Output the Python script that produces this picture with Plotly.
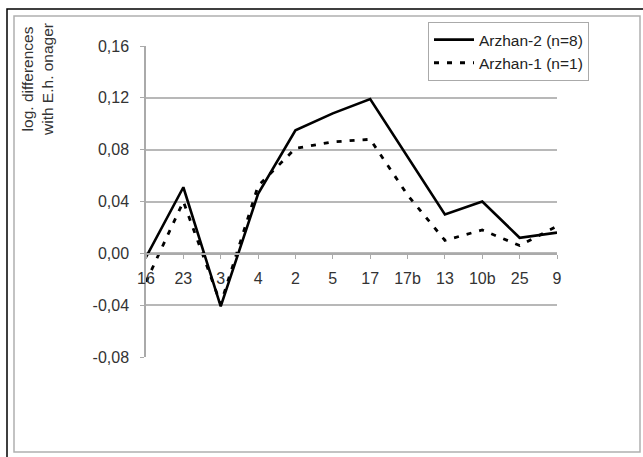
import plotly.graph_objects as go

categories = ["16", "23", "3", "4", "2", "5", "17", "17b", "13", "10b", "25", "9"]
arzhan2 = [-0.003, 0.051, -0.041, 0.046, 0.095, 0.108, 0.119, 0.075, 0.030, 0.040, 0.012, 0.016]
arzhan1 = [-0.022, 0.040, -0.039, 0.052, 0.081, 0.086, 0.088, 0.045, 0.010, 0.018, 0.006, 0.021]
y_tick_values = [-0.08, -0.04, 0.0, 0.04, 0.08, 0.12, 0.16]
y_tick_labels = ["-0,08", "-0,04", "0,00", "0,04", "0,08", "0,12", "0,16"]

W, H = 643, 457
L, R, T, B = 146, 557, 46, 357  # plot area pixel bounds


def px(x):
    return (x - L) / (R - L)


def py(y):
    return (B - y) / (B - T)


fig = go.Figure()
fig.add_trace(go.Scatter(x=categories, y=arzhan2, mode="lines", name="Arzhan-2 (n=8)",
                         line=dict(color="black", width=2.6)))
fig.add_trace(go.Scatter(x=categories, y=arzhan1, mode="lines", name="Arzhan-1 (n=1)",
                         line=dict(color="black", width=2.8, dash="5px,8px")))

font = "Liberation Sans, Arial, sans-serif"

fig.update_layout(
    width=W, height=H,
    margin=dict(l=L, r=W - R, t=T, b=H - B),
    paper_bgcolor="white", plot_bgcolor="white",
    font=dict(family=font, size=16, color="#333"),
    showlegend=True,
    legend=dict(x=px(428), y=py(22), xanchor="left", yanchor="top",
                bordercolor="#aaaaaa", borderwidth=1, bgcolor="white",
                font=dict(size=15.5, color="#222"), tracegroupgap=0,
                itemwidth=40),
    xaxis=dict(type="category", range=[0, len(categories) - 1],
               anchor="free", position=py(254),
               showgrid=False, showline=True, linecolor="#aaaaaa", linewidth=1.5,
               ticks="outside", ticklen=4, tickcolor="#aaaaaa", ticklabelstandoff=6,
               tickfont=dict(size=16, color="#333"), zeroline=False, fixedrange=True),
    yaxis=dict(range=[-0.08, 0.16], tickvals=y_tick_values, ticktext=y_tick_labels,
               showgrid=True, gridcolor="#b8b8b8", gridwidth=1.5,
               showline=True, linecolor="#aaaaaa", linewidth=1.5,
               ticks="outside", ticklen=4, tickcolor="#aaaaaa", ticklabelstandoff=8,
               tickfont=dict(size=16, color="#333"), zeroline=False, fixedrange=True),
    annotations=[dict(text="log. differences<br>with E.h. onager", textangle=-90,
                      xref="paper", yref="paper", x=px(37), y=py(80),
                      xanchor="center", yanchor="middle", showarrow=False,
                      font=dict(size=15.5, color="#333"))],
    shapes=[
        dict(type="rect", xref="paper", yref="paper",
             x0=px(7), y0=py(470), x1=px(660), y1=py(9),
             line=dict(color="black", width=1.5), layer="below"),
        dict(type="rect", xref="paper", yref="paper",
             x0=px(14), y0=py(452), x1=px(640), y1=py(16),
             line=dict(color="#b0b0b0", width=1.5), layer="below"),
    ],
)

fig.write_html("out.html", config={"displayModeBar": False},
               post_script="document.body.style.margin='0';document.body.style.overflow='hidden';")
